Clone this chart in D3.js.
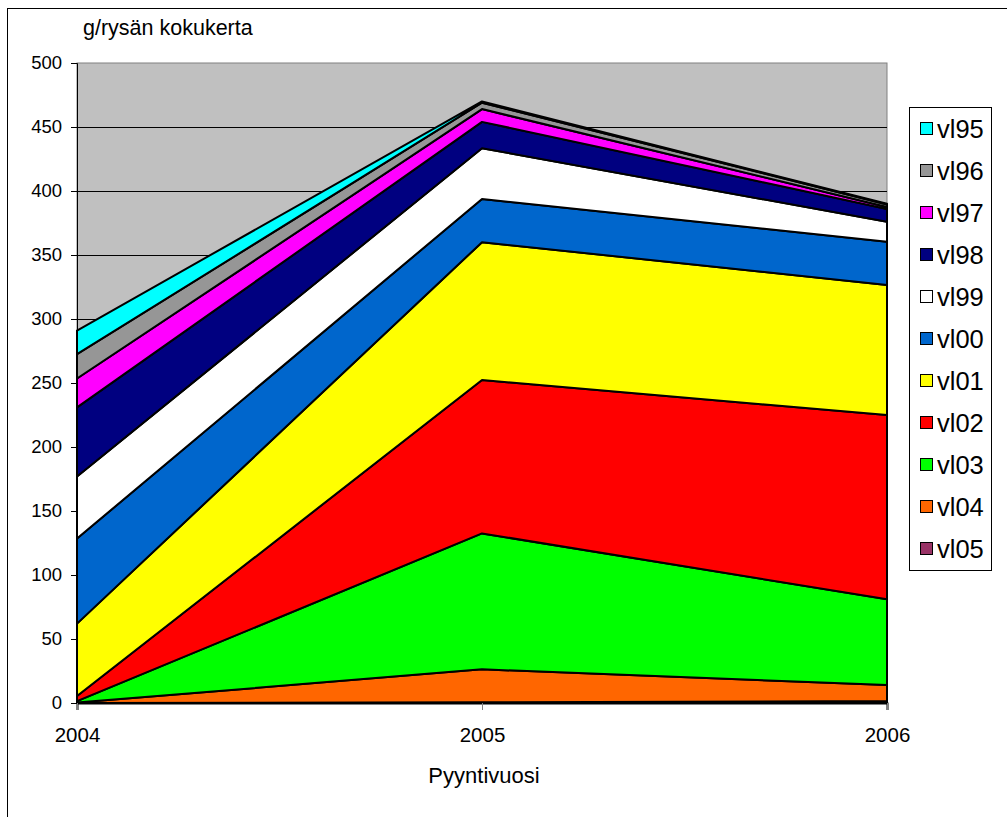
<!DOCTYPE html>
<html>
<head>
<meta charset="utf-8">
<script src="https://cdn.jsdelivr.net/npm/d3@7"></script>
<style>
  html, body { margin: 0; padding: 0; background: #fff; }
  svg text { font-family: Arial, "Liberation Sans", sans-serif; }
</style>
</head>
<body>
<svg id="chart" width="1007" height="817"></svg>
<script>
// Catch years
const years = [2004, 2005, 2006];

// Year classes, stacked bottom to top
const seriesNames = ["vl05", "vl04", "vl03", "vl02", "vl01", "vl00", "vl99", "vl98", "vl97", "vl96", "vl95"];

// g per trap-lift for each year class, by catch year
const vl05 = [0, 0.5, 1.5];
const vl04 = [0.3, 25.8, 12.5];
const vl03 = [1.2, 106.2, 67];
const vl02 = [4, 119.8, 144];
const vl01 = [56.5, 107.7, 101.6];
const vl00 = [66.5, 33.8, 33.8];
const vl99 = [48.5, 39.6, 15.6];
const vl98 = [54, 20.6, 10];
const vl97 = [22.5, 10, 1.5];
const vl96 = [19, 5, 2];
const vl95 = [18.5, 1, 0.5];

const yTicks = [0, 50, 100, 150, 200, 250, 300, 350, 400, 450, 500];

const colors = {
  vl95: "#00ffff", vl96: "#969696", vl97: "#ff00ff", vl98: "#000080",
  vl99: "#ffffff", vl00: "#0066cc", vl01: "#ffff00", vl02: "#ff0000",
  vl03: "#00ff00", vl04: "#ff6600", vl05: "#993366"
};

const valuesByName = { vl05, vl04, vl03, vl02, vl01, vl00, vl99, vl98, vl97, vl96, vl95 };
const table = years.map((yr, i) => {
  const row = { year: yr };
  seriesNames.forEach(n => { row[n] = valuesByName[n][i]; });
  return row;
});

const svg = d3.select("#chart");
const W = 1007, H = 817;
const plot = { left: 77, right: 887, top: 63, bottom: 703 };

// outer frame
svg.append("rect").attr("x", 7.5).attr("y", 8.5).attr("width", W).attr("height", H)
  .attr("fill", "#fff").attr("stroke", "#000").attr("stroke-width", 1);

const x = d3.scalePoint().domain(years).range([plot.left, plot.right]);
const y = d3.scaleLinear().domain([0, 500]).range([plot.bottom, plot.top]);

// plot background
svg.append("rect").attr("x", plot.left).attr("y", plot.top)
  .attr("width", plot.right - plot.left).attr("height", plot.bottom - plot.top)
  .attr("fill", "#c0c0c0").attr("stroke", "#808080").attr("stroke-width", 1);

// gridlines
svg.append("g").selectAll("line").data(yTicks.filter(t => t > 0 && t < 500)).join("line")
  .attr("x1", plot.left).attr("x2", plot.right)
  .attr("y1", d => y(d) + 0.5).attr("y2", d => y(d) + 0.5)
  .attr("stroke", "#000").attr("stroke-width", 1);

// stacked areas
const stack = d3.stack().keys(seriesNames);
const layers = stack(table);
const area = d3.area()
  .x(d => x(d.data.year))
  .y0(d => y(d[0]))
  .y1(d => y(d[1]));

svg.append("g").selectAll("path").data(layers).join("path")
  .attr("d", area)
  .attr("fill", d => colors[d.key])
  .attr("stroke", "#000")
  .attr("stroke-width", 2)
  .attr("stroke-linejoin", "round");

// y axis
const yAxis = d3.axisLeft(y).tickValues(yTicks).tickSize(6).tickPadding(9).tickFormat(d3.format("d"));
const gy = svg.append("g").attr("transform", `translate(${plot.left},0)`).call(yAxis);
gy.select(".domain").attr("stroke", "#000");
gy.selectAll(".tick line").attr("stroke", "#000");
gy.selectAll("text").attr("font-size", 18.5).attr("fill", "#000")
  .attr("font-family", "Arial, 'Liberation Sans', sans-serif");

// x axis
const xAxis = d3.axisBottom(x).tickSize(7).tickPadding(17).tickFormat(d3.format("d"));
const gx = svg.append("g").attr("transform", `translate(0,${plot.bottom})`).call(xAxis);
gx.select(".domain").attr("stroke", "#000").attr("stroke-width", 2);
gx.selectAll(".tick line").attr("stroke", "#808080");
gx.selectAll("text").attr("font-size", 20.5).attr("fill", "#000")
  .attr("font-family", "Arial, 'Liberation Sans', sans-serif");

// titles
svg.append("text").attr("x", 83).attr("y", 35).attr("font-size", 21.5).text("g/rysän kokukerta");
svg.append("text").attr("x", 484).attr("y", 783).attr("text-anchor", "middle")
  .attr("font-size", 22).text("Pyyntivuosi");

// legend
const legend = svg.append("g");
legend.append("rect").attr("x", 909.5).attr("y", 107.5).attr("width", 82).attr("height", 463)
  .attr("fill", "#fff").attr("stroke", "#000").attr("stroke-width", 1);
const legendOrder = seriesNames.slice().reverse();
const item = legend.selectAll("g.item").data(legendOrder).join("g")
  .attr("class", "item")
  .attr("transform", (d, i) => `translate(920,${129 + i * 42})`);
item.append("rect").attr("x", 0.5).attr("y", -6.5).attr("width", 12).attr("height", 12)
  .attr("fill", d => colors[d]).attr("stroke", "#000").attr("stroke-width", 1);
item.append("text").attr("x", 17).attr("y", 8.5).attr("font-size", 25.5).text(d => d);
</script>
</body>
</html>
